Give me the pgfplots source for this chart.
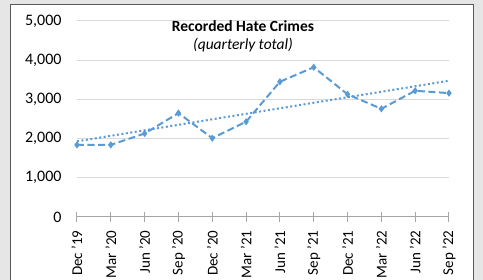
\documentclass[border=0pt]{standalone}
\usepackage{pgfplots}
\pgfplotsset{compat=1.18}
\usepackage{fontspec}
\setmainfont{Carlito}
\definecolor{ser}{HTML}{5B9BD5}
\definecolor{bg}{HTML}{E6E6E6}
\definecolor{grid}{HTML}{D9D9D9}
\definecolor{axl}{HTML}{A6A6A6}
\definecolor{frm}{HTML}{595959}
\begin{document}
\begin{tikzpicture}[x=1pt,y=1pt]
\useasboundingbox (0,0) rectangle (483,280);
\fill[bg] (0,0) rectangle (483,280);
\filldraw[fill=white,draw=frm,line width=1pt] (10.5,-5) rectangle (473,275);
\begin{axis}[
  at={(77pt,63pt)}, anchor=south west,
  scale only axis, width=372pt, height=196pt,
  xmin=0, xmax=11, ymin=0, ymax=5000,
  axis y line*=left, axis x line*=bottom,
  y axis line style={draw=none},
  x axis line style={-, draw=axl, line width=1pt},
  ytick={0,1000,2000,3000,4000,5000},
  ymajorgrids, major grid style={draw=grid, line width=1pt},
  xtick={0,...,11},
  xticklabels={Dec '19,Mar '20,Jun '20,Sep '20,Dec '20,Mar '21,Jun '21,Sep '21,Dec '21,Mar '22,Jun '22,Sep '22},
  x tick label style={rotate=90, anchor=east, font=\fontsize{15}{18}\selectfont, text=black, xshift=-5pt},
  y tick label style={font=\fontsize{16}{19}\selectfont, text=black, xshift=-7pt},
  yticklabel style={/pgf/number format/1000 sep={,}},
  /pgf/number format/assume math mode=true,
  major tick length=10pt, tick align=center,
  xtick style={draw=axl, line width=1pt},
  ytick style={draw=none},
  clip=false,
]
\addplot[ser, line width=2pt, dash pattern=on 7pt off 3.5pt, mark=diamond*, mark size=2pt, mark options={solid}]
coordinates {(0,1840)(1,1840)(2,2130)(3,2650)(4,2010)(5,2430)(6,3450)(7,3820)(8,3130)(9,2760)(10,3220)(11,3160)};
\addplot[ser, line width=2pt, dash pattern=on 2pt off 2.5pt] coordinates {(0,1930)(11,3476)};
\end{axis}
\node[font=\fontsize{15.5}{18}\selectfont\bfseries] at (243,254) {Recorded Hate Crimes};
\node[font=\fontsize{15.5}{18}\selectfont\itshape] at (243,235) {(quarterly total)};
\end{tikzpicture}
\end{document}
